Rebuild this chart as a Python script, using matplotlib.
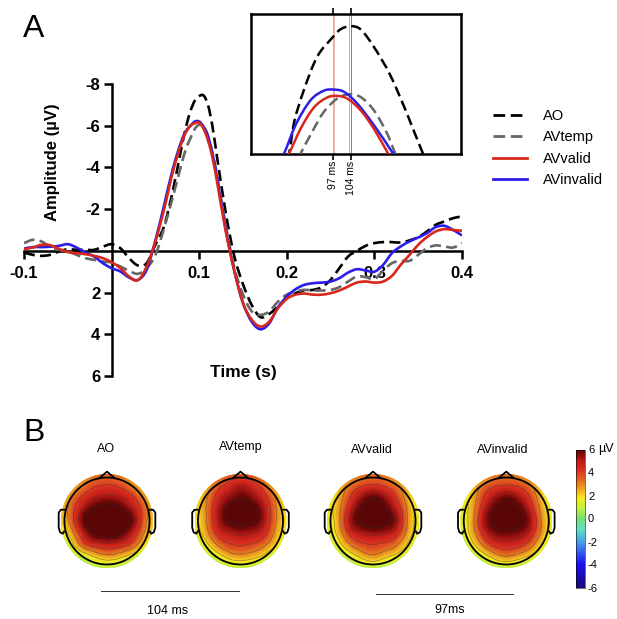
import numpy as np
import matplotlib
matplotlib.use("Agg")
import matplotlib.pyplot as plt
import matplotlib.tri as mtri
from matplotlib.colors import LinearSegmentedColormap
from matplotlib.lines import Line2D
from matplotlib.patches import Circle, PathPatch
from matplotlib.path import Path

plt.rcParams['font.family'] = ['Liberation Sans', 'DejaVu Sans']
plt.rcParams['axes.unicode_minus'] = False

W, H = 617, 619

# ================= DATA =================
time = [-0.10, -0.09, -0.08, -0.07, -0.06, -0.05, -0.04, -0.03, -0.02, -0.01,
        0.00, 0.01, 0.02, 0.03, 0.04, 0.05, 0.06, 0.07, 0.08, 0.085,
        0.09, 0.095, 0.10, 0.105, 0.11, 0.115, 0.12, 0.13, 0.14, 0.15,
        0.16, 0.17, 0.18, 0.19, 0.20, 0.21, 0.22, 0.23, 0.24, 0.25,
        0.26, 0.27, 0.28, 0.29, 0.30, 0.31, 0.32, 0.33, 0.34, 0.35,
        0.36, 0.37, 0.38, 0.39, 0.40]

ao = [0.08, 0.19, 0.24, 0.19, 0.03, -0.08, -0.05, -0.05, -0.05, -0.2,
      -0.32, -0.13, 0.35, 0.7, 0.59, -0.3, -1.2, -2.9, -5.0, -5.95,
      -6.7, -7.2, -7.42, -7.45, -7.0, -6.0, -4.6, -1.9, 0.25, 1.6,
      2.6, 3.18, 3.02, 2.67, 2.27, 2.03, 1.9, 1.87, 1.74, 1.39,
      0.83, 0.27, 0.0, -0.24, -0.37, -0.42, -0.42, -0.4, -0.5, -0.66,
      -0.93, -1.25, -1.41, -1.57, -1.65]
avtemp = [-0.37, -0.53, -0.45, -0.2, -0.05, 0.03, 0.19, 0.35, 0.43, 0.51,
          0.56, 0.75, 0.96, 1.1, 0.83, 0.2, -1.1, -2.6, -4.2, -4.9,
          -5.4, -5.85, -6.05, -6.0, -5.5, -4.7, -3.7, -1.3, 0.8, 2.1,
          2.9, 3.07, 2.9, 2.43, 2.1, 1.95, 1.87, 1.9, 1.9, 1.87,
          1.74, 1.47, 1.23, 1.26, 1.36, 0.94, 0.59, 0.48, 0.48, 0.19,
          -0.13, -0.26, -0.21, -0.16, -0.37]
avvalid = [-0.08, -0.16, -0.29, -0.27, -0.1, 0.06, 0.11, 0.16, 0.24, 0.35,
           0.54, 0.83, 1.23, 1.41, 0.75, -0.45, -2.0, -3.8, -5.2, -5.7,
           -6.0, -6.12, -6.15, -5.85, -5.3, -4.5, -3.4, -1.0, 0.95, 2.5,
           3.3, 3.63, 3.39, 2.75, 2.3, 2.1, 2.05, 2.1, 2.1, 2.03,
           1.9, 1.71, 1.52, 1.47, 1.52, 1.47, 1.2, 0.67, 0.2, -0.29,
           -0.66, -0.93, -1.04, -1.0, -0.96]
avinvalid = [-0.11, -0.18, -0.18, -0.2, -0.24, -0.32, -0.16, 0.08, 0.27, 0.59,
             0.83, 0.99, 1.28, 1.39, 0.91, -0.5, -2.2, -3.95, -5.3, -5.75,
             -6.0, -6.2, -6.2, -5.95, -5.5, -4.7, -3.6, -1.1, 0.95, 2.5,
             3.4, 3.76, 3.47, 2.7, 2.19, 1.84, 1.63, 1.55, 1.52, 1.47,
             1.31, 1.04, 0.88, 0.94, 1.0, 0.67, 0.11, -0.21, -0.45, -0.64,
             -0.85, -1.14, -1.2, -1.0, -0.74]

# inset, time in ms
ao_t = [78, 79.4, 81.3, 85.3, 90.6, 97, 99.9, 104, 107.9, 113.2, 119.8, 126.4, 132.8, 134]
ao_v = [-4.95, -5.04, -5.61, -6.24, -6.87, -7.25, -7.39, -7.45, -7.39, -7.06, -6.52, -5.80, -5.04, -4.95]
avtemp_t = [83, 84, 88.6, 93.3, 98.6, 103.2, 107.9, 113.2, 118.5, 121.8, 123]
avtemp_v = [-4.95, -5.04, -5.45, -5.83, -6.08, -6.16, -6.11, -5.86, -5.42, -5.04, -4.95]
avvalid_t = [78, 79.4, 84, 89.3, 94.6, 98.6, 102.6, 107.9, 113.2, 118.9, 120]
avvalid_v = [-4.95, -5.04, -5.51, -5.91, -6.10, -6.13, -6.08, -5.86, -5.51, -5.04, -4.95]
avinvalid_t = [76, 77.4, 82, 88, 93.3, 97, 101.2, 106.5, 113.2, 120.9, 122]
avinvalid_v = [-4.95, -5.04, -5.58, -6.05, -6.23, -6.25, -6.21, -5.99, -5.58, -5.04, -4.95]

# scalp maps, rows front to back
topo_ao = [[1.5, 1.8, 2.5, 3.0, 3.3, 3.0, 2.5, 1.8, 1.5],
           [1.7, 2.2, 3.2, 3.9, 4.1, 3.9, 3.2, 2.3, 1.7],
           [1.9, 3.2, 4.3, 5.0, 5.3, 5.1, 4.4, 3.2, 1.9],
           [2.1, 3.7, 5.3, 6.2, 6.5, 6.2, 5.4, 3.9, 2.2],
           [2.1, 3.7, 5.9, 6.6, 6.9, 6.6, 6.1, 4.0, 2.2],
           [1.4, 2.8, 5.0, 6.2, 6.5, 6.2, 5.2, 3.4, 1.8],
           [0.7, 1.8, 3.7, 4.5, 4.8, 4.6, 3.9, 2.4, 1.1],
           [0.4, 0.7, 1.3, 2.2, 2.7, 2.4, 1.7, 0.9, 0.5],
           [0.2, 0.3, 0.5, 0.7, 0.8, 0.7, 0.5, 0.3, 0.2]]
topo_avtemp = [[1.5, 1.8, 2.6, 3.2, 3.5, 3.2, 2.6, 1.8, 1.5],
               [1.5, 2.3, 3.6, 4.4, 5.0, 4.5, 3.6, 2.3, 1.5],
               [1.6, 2.8, 4.4, 5.4, 5.9, 5.5, 4.5, 3.0, 1.6],
               [1.7, 3.0, 4.9, 6.2, 6.6, 6.3, 5.2, 3.2, 1.8],
               [1.7, 2.9, 4.9, 6.1, 6.4, 6.2, 5.2, 3.2, 1.8],
               [1.4, 2.6, 4.3, 5.0, 5.3, 5.1, 4.5, 2.8, 1.5],
               [0.8, 1.7, 3.1, 3.9, 4.1, 3.9, 3.3, 2.1, 1.1],
               [0.5, 0.8, 1.5, 2.4, 2.7, 2.4, 1.8, 1.0, 0.6],
               [0.2, 0.3, 0.5, 0.7, 0.8, 0.7, 0.5, 0.3, 0.2]]
topo_avvalid = [[1.3, 1.6, 2.4, 3.0, 3.2, 3.0, 2.4, 1.6, 1.3],
                [1.3, 2.1, 3.2, 3.9, 4.2, 3.9, 3.2, 2.1, 1.3],
                [1.4, 2.4, 4.0, 5.3, 5.9, 5.4, 4.1, 2.5, 1.4],
                [1.5, 2.7, 4.7, 6.1, 6.4, 6.1, 4.9, 2.9, 1.5],
                [1.5, 2.7, 5.1, 6.2, 6.5, 6.3, 5.4, 3.0, 1.6],
                [1.2, 2.4, 4.3, 5.1, 5.4, 5.2, 4.5, 2.7, 1.4],
                [0.8, 1.6, 3.0, 3.8, 4.0, 3.8, 3.2, 1.9, 1.0],
                [0.4, 0.8, 1.4, 2.3, 2.8, 2.3, 1.7, 1.0, 0.5],
                [0.2, 0.3, 0.4, 0.6, 0.8, 0.6, 0.4, 0.3, 0.2]]
topo_avinvalid = [[1.2, 1.5, 2.3, 2.9, 3.2, 2.9, 2.3, 1.5, 1.2],
                  [1.2, 2.0, 3.2, 3.9, 4.1, 3.9, 3.2, 2.0, 1.2],
                  [1.3, 2.3, 4.0, 5.2, 5.8, 5.3, 4.1, 2.4, 1.3],
                  [1.4, 2.5, 4.6, 6.0, 6.3, 6.1, 4.9, 2.8, 1.4],
                  [1.4, 2.6, 5.0, 6.2, 6.4, 6.3, 5.4, 3.1, 1.6],
                  [1.2, 2.4, 4.4, 5.6, 5.8, 5.6, 4.8, 2.9, 1.4],
                  [0.8, 1.7, 3.2, 4.3, 4.6, 4.4, 3.6, 2.1, 1.0],
                  [0.4, 0.8, 1.5, 2.5, 3.0, 2.6, 1.9, 1.1, 0.5],
                  [0.2, 0.3, 0.4, 0.6, 0.8, 0.6, 0.4, 0.3, 0.2]]

series_labels = ["AO", "AVtemp", "AVvalid", "AVinvalid"]
x_ticks = [-0.1, 0.1, 0.2, 0.3, 0.4]
y_ticks = [-8, -6, -4, -2, 2, 4, 6]
cbar_ticks = [6, 4, 2, 0, -2, -4, -6]
inset_ticks = [97, 104]
inset_tick_labels = ["97 ms", "104 ms"]

BLACK = "#000000"
GRAY = "#666666"
RED = "#d8281c"
BLUE = "#2a1ee8"
DASH = (4.2, 2.0)

# colours sampled from the reference bar
scalp_cmap = LinearSegmentedColormap.from_list("scalp", [
    (0.00, "#1a0a78"), (0.17, "#1a10f0"), (0.33, "#4aa0e8"), (0.42, "#60e0c8"),
    (0.50, "#78e070"), (0.58, "#c8f040"), (0.65, "#f8e820"), (0.71, "#f0a820"),
    (0.79, "#e06020"), (0.85, "#d83020"), (0.92, "#bc1a16"), (0.97, "#7a0c0c"), (1.00, "#5a0606")])


def box(left, top, right, bottom):
    # pixel box from the top left corner -> figure fraction
    return [left / W, 1 - bottom / H, (right - left) / W, (bottom - top) / H]


def fx(x):
    return x / W


def fy(y):
    return 1 - y / H


def curve(ax, xs, ys, color, lw, dashed=False, zorder=3):
    # bezier through the read values so the trace does not look polygonal
    xs = np.array(xs)
    ys = np.array(ys)
    verts = [(xs[0], ys[0])]
    codes = [Path.MOVETO]
    for k in range(len(xs) - 1):
        k0 = max(k - 1, 0)
        k3 = min(k + 2, len(xs) - 1)
        h = xs[k + 1] - xs[k]
        m1 = (ys[k + 1] - ys[k0]) / (xs[k + 1] - xs[k0])
        m2 = (ys[k3] - ys[k]) / (xs[k3] - xs[k])
        verts += [(xs[k] + h / 3, ys[k] + m1 * h / 3),
                  (xs[k + 1] - h / 3, ys[k + 1] - m2 * h / 3),
                  (xs[k + 1], ys[k + 1])]
        codes += [Path.CURVE4] * 3
    ls = (0, DASH) if dashed else "-"
    p = PathPatch(Path(verts, codes), fill=False, ec=color, lw=lw, ls=ls, zorder=zorder,
                  capstyle="butt", joinstyle="round")
    ax.add_patch(p)


fig = plt.figure(figsize=(W / 100, H / 100), dpi=100, facecolor="white")

# ================= PANEL A =================
ax = fig.add_axes(box(24, 84, 462, 376))
ax.set_xlim(-0.1, 0.4)
ax.set_ylim(6, -8)
curve(ax, time, ao, BLACK, 1.9, dashed=True, zorder=3)
curve(ax, time, avtemp, GRAY, 1.9, dashed=True, zorder=3)
curve(ax, time, avinvalid, BLUE, 1.9, zorder=4)
curve(ax, time, avvalid, RED, 1.9, zorder=5)

for s in ["top", "right"]:
    ax.spines[s].set_visible(False)
ax.spines["left"].set_position(("data", 0))
ax.spines["bottom"].set_position(("data", 0))
ax.spines["left"].set_linewidth(1.8)
ax.spines["bottom"].set_linewidth(1.8)
ax.patch.set_alpha(0)
ax.set_xticks(x_ticks)
ax.set_xticklabels([str(t) for t in x_ticks], fontsize=12, fontweight="bold")
ax.set_yticks(y_ticks)
ax.set_yticklabels([str(t) for t in y_ticks], fontsize=12, fontweight="bold")
ax.tick_params(axis="x", width=1.8, length=6, pad=5)
ax.tick_params(axis="y", width=1.8, length=6, pad=2)

fig.text(fx(52), fy(162), "Amplitude (µV)", rotation=90, fontsize=12, fontweight="bold",
         ha="center", va="center")
fig.text(fx(243), fy(373), "Time (s)", fontsize=12.5, fontweight="bold", ha="center", va="center")
fig.text(fx(34), fy(29), "A", fontsize=23, ha="center", va="center")
fig.text(fx(34), fy(433), "B", fontsize=23, ha="center", va="center")

# legend
leg_handles = [Line2D([], [], color=BLACK, lw=2, dashes=DASH),
               Line2D([], [], color=GRAY, lw=2, dashes=DASH),
               Line2D([], [], color=RED, lw=2),
               Line2D([], [], color=BLUE, lw=2)]
fig.legend(leg_handles, series_labels, loc="upper left", bbox_to_anchor=(fx(480), fy(96)),
           frameon=False, fontsize=10.5, handlelength=2.33, handletextpad=1.1, labelspacing=0.5)

# inset
axi = fig.add_axes(box(251, 14, 461, 153.5))
axi.set_xlim(64.2, 148)
axi.set_ylim(-5.04, -7.68)
axi.axvline(96.8, color="#a9a4ee", lw=0.6)
axi.axvline(97.2, color="#f0a8a4", lw=0.6)
axi.axvline(103.4, color="#999999", lw=0.5)
axi.axvline(104, color="#555555", lw=0.5)
curve(axi, ao_t, ao_v, BLACK, 1.8, dashed=True)
curve(axi, avtemp_t, avtemp_v, GRAY, 1.8, dashed=True)
curve(axi, avinvalid_t, avinvalid_v, BLUE, 1.8, zorder=4)
curve(axi, avvalid_t, avvalid_v, RED, 1.8, zorder=5)
axi.set_yticks([])
axi.set_xticks(inset_ticks)
axi.set_xticklabels(inset_tick_labels, rotation=90, fontsize=7.5)
axi.tick_params(axis="x", top=True, width=1.2, length=4, pad=1)
for s in axi.spines.values():
    s.set_linewidth(1.8)

# ================= PANEL B =================
maps = [topo_ao, topo_avtemp, topo_avvalid, topo_avinvalid]
centers = [107, 240.5, 373, 506.3]
title_pos = [(106, 449), (241, 447), (372, 450), (503, 450)]

grid = np.linspace(-1, 1, 9)
gx, gy = np.meshgrid(grid, grid[::-1])
tri_base = mtri.Triangulation(gx.ravel(), gy.ravel())
refiner = mtri.UniformTriRefiner(tri_base)
ear_x = [-0.93, -1.0, -1.05, -1.05, -1.02, -0.96, -0.93]
ear_y = [0.24, 0.24, 0.18, -0.14, -0.24, -0.27, -0.22]

for i, cx in enumerate(centers):
    axm = fig.add_axes(box(cx - 46, 521 - 47, cx + 46, 521 + 47))
    axm.set_xlim(-1, 1)
    axm.set_ylim(-1, 1)
    axm.axis("off")
    tri_fine, z_fine = refiner.refine_field(np.array(maps[i]).ravel(), subdiv=3)
    disc = Circle((0, 0), 1, transform=axm.transData)
    pc = axm.tripcolor(tri_fine, z_fine, shading="gouraud", cmap=scalp_cmap, vmin=-6, vmax=6)
    pc.set_clip_path(disc)
    cs = axm.tricontour(tri_fine, z_fine, levels=[1, 2, 3, 4, 5, 6], colors="#333333",
                        linewidths=0.45, alpha=0.55)
    cs.set_clip_path(Circle((0, 0), 0.93, transform=axm.transData))
    axm.add_patch(Circle((0, 0), 0.925, fill=False, ec="black", lw=1.3))
    axm.plot([-0.17, 0, 0.17], [0.91, 1.05, 0.91], color="black", lw=1.3, clip_on=False)
    axm.plot(ear_x, ear_y, color="black", lw=1.3, clip_on=False)
    axm.plot([-e for e in ear_x], ear_y, color="black", lw=1.3, clip_on=False)
    fig.text(fx(title_pos[i][0]), fy(title_pos[i][1]), series_labels[i], fontsize=9, ha="center", va="center")

fig.add_artist(Line2D([fx(101), fx(239)], [fy(591), fy(591)], color="#333333", lw=0.7))
fig.add_artist(Line2D([fx(376), fx(513)], [fy(594), fy(594)], color="#333333", lw=0.7))
fig.text(fx(168), fy(611), "104 ms", fontsize=9, ha="center", va="center")
fig.text(fx(450), fy(610), "97ms", fontsize=9, ha="center", va="center")

# colorbar
cax = fig.add_axes(box(576, 449.5, 584.5, 587.5))
sm = plt.cm.ScalarMappable(norm=plt.Normalize(-6, 6), cmap=scalp_cmap)
cb = fig.colorbar(sm, cax=cax)
cb.set_ticks(cbar_ticks)
cb.ax.tick_params(length=0, pad=2.5, labelsize=8)
cb.outline.set_linewidth(0.4)
fig.text(fx(606), fy(449), "µV", fontsize=9, ha="center", va="center")

fig.savefig("out.png", dpi=100)
